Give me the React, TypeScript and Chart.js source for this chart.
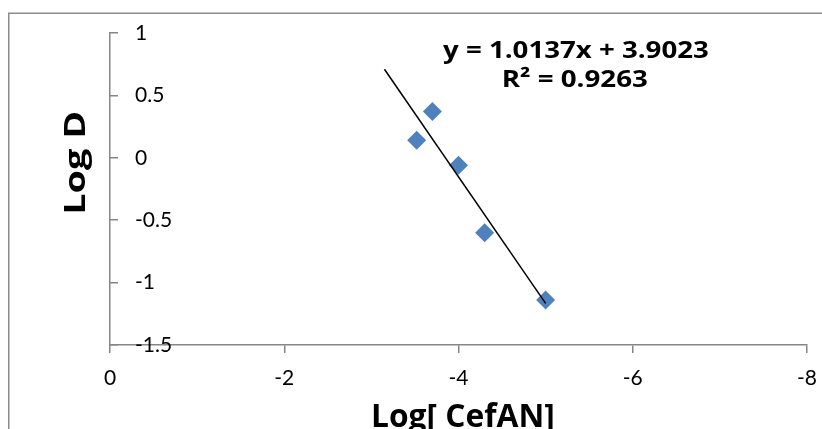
import React, { useEffect, useRef } from "react";
import { Chart, registerables } from "chart.js";

Chart.register(...registerables);

// ---- data ----
const logConc: number[] = [-3.52, -3.7, -4.0, -4.3, -5.0];
const logD: number[] = [0.14, 0.37, -0.06, -0.6, -1.14];
const trendSlope = 1.0137;
const trendIntercept = 3.9023;
const trendRangeX: number[] = [-3.15, -5.0];
const xTickRange: number[] = [-8, 0, 2]; // min, max, step
const yTickRange: number[] = [-1.5, 1, 0.5];
const equationText = "y = 1.0137x + 3.9023";
const r2Text = "R\u00B2 = 0.9263";
const xTitle = "Log[ CefAN]";
const yTitle = "Log D";

const FONT = "Lato";
const TITLE_FONT = "'Open Sans'";
const AXIS_COLOR = "#868686";
const MARKER_COLOR = "#4F81BD";

function drawFitted(
  ctx: CanvasRenderingContext2D,
  text: string,
  cx: number,
  baseline: number,
  capH: number,
  inkW: number,
  rot: number
) {
  ctx.save();
  ctx.font = `bold 100px ${TITLE_FONT}`;
  const capRatio = ctx.measureText("H").actualBoundingBoxAscent / 100;
  const size = capH / capRatio;
  ctx.font = `bold ${size}px ${TITLE_FONT}`;
  const m = ctx.measureText(text);
  const w = m.actualBoundingBoxLeft + m.actualBoundingBoxRight;
  const sx = inkW / w;
  ctx.translate(cx, baseline);
  ctx.rotate(rot);
  ctx.scale(sx, 1);
  ctx.textAlign = "left";
  ctx.textBaseline = "alphabetic";
  ctx.fillStyle = "#000";
  const x0 = -(m.actualBoundingBoxRight - m.actualBoundingBoxLeft) / 2;
  ctx.fillText(text, x0, 0);
  ctx.restore();
}

const framePlugin = {
  id: "frame",
  beforeDraw(chart: any) {
    const ctx = chart.ctx as CanvasRenderingContext2D;
    ctx.save();
    ctx.strokeStyle = "#8c8c8c";
    ctx.lineWidth = 1.5;
    ctx.beginPath();
    ctx.moveTo(0.75, chart.height);
    ctx.lineTo(0.75, 5.2);
    ctx.lineTo(chart.width, 5.2);
    ctx.stroke();
    ctx.restore();
  },
};

const textPlugin = {
  id: "texts",
  afterDraw(chart: any) {
    const ctx = chart.ctx as CanvasRenderingContext2D;
    drawFitted(ctx, equationText, 567.5, 50.3, 17.3, 265, 0);
    drawFitted(ctx, r2Text, 567.5, 79, 17.3, 143, 0);
    drawFitted(ctx, xTitle, 455, 419, 23.4, 180, 0);
    drawFitted(ctx, yTitle, 77, 154.5, 20, 99, -Math.PI / 2);
  },
};

export default function App() {
  const ref = useRef<HTMLCanvasElement | null>(null);

  useEffect(() => {
    const canvas = ref.current;
    if (!canvas) return;
    const points = logConc.map((x, i) => ({ x, y: logD[i] }));
    const trend = trendRangeX.map((x) => ({ x, y: trendSlope * x + trendIntercept }));
    const tickFont = { family: FONT, size: 21 };

    const chart = new Chart(canvas, {
      type: "scatter",
      data: {
        datasets: [
          {
            data: trend,
            showLine: true,
            borderColor: "#000",
            borderWidth: 1.5,
            pointRadius: 0,
            fill: false,
          },
          {
            data: points,
            pointStyle: "rectRot",
            pointRadius: 9.5,
            backgroundColor: MARKER_COLOR,
            borderColor: MARKER_COLOR,
            borderWidth: 0,
          },
        ],
      } as any,
      options: {
        responsive: false,
        animation: false,
        devicePixelRatio: 1,
        layout: { padding: { left: 102, top: 25, right: 15, bottom: 0 } },
        plugins: { legend: { display: false }, tooltip: { enabled: false } },
        scales: {
          x: {
            type: "linear",
            min: xTickRange[0],
            max: xTickRange[1],
            reverse: true,
            ticks: {
              stepSize: xTickRange[2],
              font: tickFont,
              color: "#000",
              padding: 13,
              maxRotation: 0,
              autoSkip: false,
              callback: (v: any) => String(Number(v)),
            },
            grid: {
              drawOnChartArea: false,
              drawTicks: true,
              tickLength: 8,
              color: AXIS_COLOR,
              lineWidth: 1.5,
            },
            border: { display: true, color: AXIS_COLOR, width: 1.5 },
            afterFit: (s: any) => {
              s.height = 84;
              s.paddingLeft = 0;
              s.paddingRight = 0;
            },
          },
          y: {
            type: "linear",
            min: yTickRange[0],
            max: yTickRange[1],
            ticks: {
              stepSize: yTickRange[2],
              mirror: true,
              padding: 25,
              font: tickFont,
              color: "#000",
              autoSkip: false,
              callback: (v: any) => String(Number(Number(v).toFixed(2))),
            },
            grid: {
              drawOnChartArea: false,
              drawTicks: true,
              tickLength: -8,
              color: AXIS_COLOR,
              lineWidth: 1.5,
            },
            border: { display: true, color: AXIS_COLOR, width: 1.5 },
            afterFit: (s: any) => {
              s.width = 0;
              s.paddingTop = 0;
              s.paddingBottom = 0;
            },
          },
        },
      } as any,
      plugins: [framePlugin, textPlugin],
    });
    return () => chart.destroy();
  }, []);

  return (
    <canvas
      ref={ref}
      width={814}
      height={421}
      style={{ position: "fixed", left: 8, top: 8, width: 814, height: 421, display: "block" }}
    />
  );
}
